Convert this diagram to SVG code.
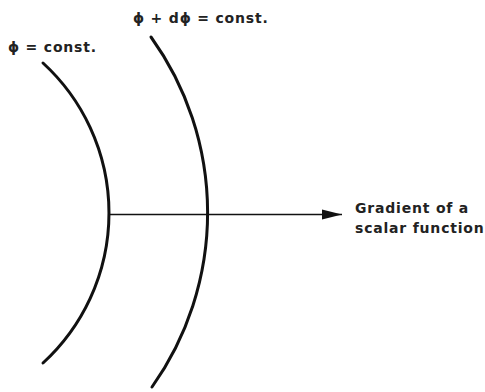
<svg xmlns="http://www.w3.org/2000/svg" width="485" height="392" viewBox="0 0 485 392">
<style>
.curve{fill:none;stroke:#111;stroke-width:3;stroke-linecap:round}
.lbl{font-family:"DejaVu Sans",sans-serif;font-size:14px;fill:#222;font-weight:bold;letter-spacing:0.8px}
</style>
<defs>
<marker id="ah" markerWidth="20" markerHeight="12" refX="20" refY="6" orient="auto" markerUnits="userSpaceOnUse">
<path d="M0,1 L20,6 L0,11 Z" fill="#111"/>
</marker>
</defs>
<rect width="485" height="392" fill="#fff"/>
<g id="surface1">
<path class="curve" d="M43,63 A203.5,203.5 0 0 1 43,363"/>
<text class="lbl" x="8" y="52">ϕ = const.</text>
</g>
<g id="surface2">
<path class="curve" d="M151,37 A301,301 0 0 1 152,387"/>
<text class="lbl" x="133" y="23">ϕ + dϕ = const.</text>
</g>
<g id="connectors">
<line x1="109" y1="214.5" x2="342" y2="214.5" stroke="#111" stroke-width="1.6" marker-end="url(#ah)"/>
</g>
<g id="gradient-label">
<text class="lbl" x="355" y="213">Gradient of a</text>
<text class="lbl" x="355" y="233">scalar function</text>
</g>
</svg>
